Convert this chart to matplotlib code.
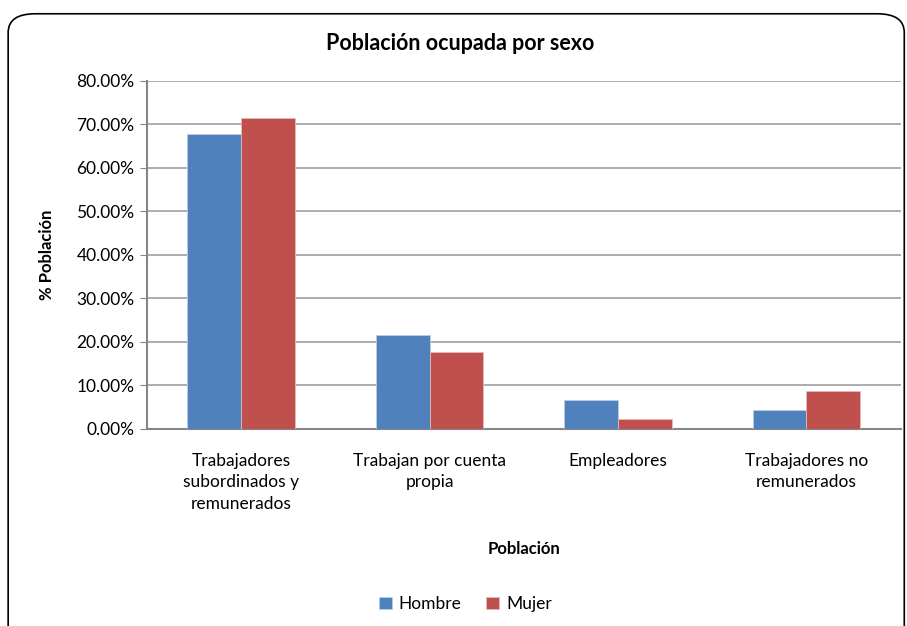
import numpy as np
import matplotlib.pyplot as plt
from matplotlib.patches import FancyBboxPatch
from matplotlib.ticker import FuncFormatter

categorias = ["Trabajadores\nsubordinados y\nremunerados", "Trabajan por cuenta\npropia",
              "Empleadores", "Trabajadores no\nremunerados"]
hombre = [67.8, 21.6, 6.7, 4.4]
mujer = [71.5, 17.7, 2.3, 8.8]

plt.rcParams['font.family'] = ['Lato', 'DejaVu Sans']

fig = plt.figure(figsize=(9.07, 6.26), dpi=100)
ax = fig.add_axes([0.162, 0.3147, 0.831, 0.556])

x = np.arange(len(categorias))
w = 0.285
ax.bar(x - w / 2, hombre, w, color='#4F81BD', edgecolor='#B9CDE5', linewidth=0.6, label='Hombre', zorder=3)
ax.bar(x + w / 2, mujer, w, color='#C0504D', edgecolor='#E6B9B8', linewidth=0.6, label='Mujer', zorder=3)

ax.set_xlim(-0.5, len(categorias) - 0.5)
ax.set_ylim(0, 80)
ax.set_yticks(np.arange(0, 81, 10))
ax.yaxis.set_major_formatter(FuncFormatter(lambda v, p: f"{v:.2f}%"))
ax.yaxis.grid(True, color='#A0A0A0', linewidth=1.2, zorder=0)
ax.set_xticks(x)
ax.set_xticklabels(categorias, fontsize=12.5, linespacing=1.45)
ax.tick_params(axis='x', length=0, pad=17)
ax.tick_params(axis='y', length=5, color='#868686', labelsize=12.5, pad=4)
for s in ['top', 'right']:
    ax.spines[s].set_visible(False)
for s in ['left', 'bottom']:
    ax.spines[s].set_color('#868686')
    ax.spines[s].set_linewidth(1.5)

fig.text(0.507, 0.930, "Población ocupada por sexo", ha='center', va='center', fontsize=15.5, fontweight='bold')
fig.text(0.052, 0.593, "% Población", ha='center', va='center', rotation=90, fontsize=12, fontweight='bold')
fig.text(0.578, 0.123, "Población", ha='center', va='center', fontsize=12, fontweight='bold')

fig.legend(loc='center', bbox_to_anchor=(0.513, 0.035), ncol=2, frameon=False, fontsize=12.5,
           handlelength=0.75, handleheight=0.75, handletextpad=0.4, columnspacing=1.4)

border = FancyBboxPatch((0.009, -0.05), 0.988, 1.028, boxstyle="round,pad=0,rounding_size=0.03",
                        transform=fig.transFigure, fill=False, edgecolor='black', linewidth=1.2)
fig.patches.append(border)

fig.savefig("out.png", dpi=100)
